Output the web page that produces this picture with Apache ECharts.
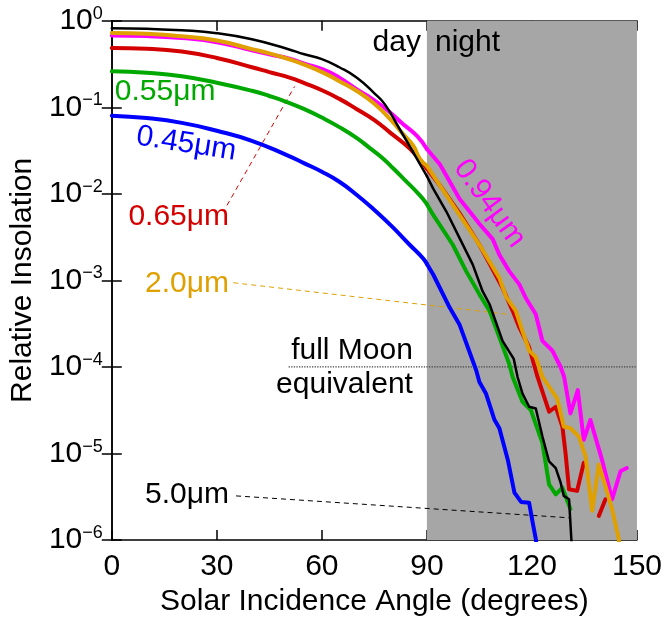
<!DOCTYPE html>
<html><head><meta charset="utf-8">
<script src="https://cdn.jsdelivr.net/npm/echarts@6/dist/echarts.min.js"></script>
<style>html,body{margin:0;padding:0;background:#fff}#c{width:665px;height:622px}</style>
</head><body><div id="c"></div>
<script>
// ---- data ----
const xTicks = [0, 30, 60, 90, 120, 150];
const nightRange = [90, 150];
const moonLine = [[50.5, 1e-4], [150, 1e-4]];

const black = [[0,0.82],[10,0.805],[20,0.775],[30,0.717],[40,0.61],[50,0.475],[55,0.41],[60,0.36],[65,0.29],[70,0.219],[75,0.145],[78,0.108],[82,0.058],[86,0.0305],[90,0.016],[91.8,0.0115],[95.6,6.2e-3],[99.3,3.1e-3],[103.1,1.52e-3],[105.9,7.5e-4],[107.9,5.3e-4],[111.6,2.0e-4],[114.8,1.24e-4],[115.9,7.66e-5],[117.3,4.93e-5],[119.2,3.47e-5],[121.1,3.32e-5],[123,1.57e-5],[124.9,8.1e-6],[126.8,6.8e-6],[128.2,4.6e-6],[129.1,3.24e-6],[130.6,2.96e-6],[131.7,5e-7]];
const magenta = [[0,0.675],[10,0.665],[20,0.63],[30,0.565],[40,0.455],[45,0.41],[51,0.361],[55,0.32],[60.5,0.272],[65,0.22],[70,0.161],[75,0.12],[79.5,0.087],[83,0.065],[87.1,0.047],[90,0.033],[93.7,0.022],[99.3,8.8e-3],[105,4.5e-3],[108.8,3.0e-3],[110.7,1.98e-3],[113.5,1.28e-3],[116.4,9e-4],[118.2,6.3e-4],[121.1,4.07e-4],[123,2.0e-4],[125.8,1.55e-4],[128.2,1.0e-4],[129.2,7.66e-5],[131,2.91e-5],[133.1,5.4e-5],[134.8,1.44e-5],[136.7,2.44e-5],[140,8.5e-6],[142.9,2.96e-6],[145.3,6.25e-6],[147.1,6.8e-6]];
const red = [[0,0.485],[10,0.475],[20,0.44],[30,0.371],[40,0.29],[45,0.255],[51,0.219],[55,0.19],[60.5,0.154],[65,0.125],[70,0.095],[75,0.071],[79.5,0.051],[85.2,0.033],[90,0.0195],[93.7,0.0126],[99.3,6e-3],[105,2.58e-3],[111.6,8.2e-4],[114.5,4.45e-4],[116.4,2.86e-4],[119.2,1.69e-4],[121.6,7.66e-5],[124.9,3.04e-5],[126.8,3.47e-5],[128.7,2.05e-5],[129.6,1.01e-5],[130.6,3.86e-6],[132.9,3.7e-6],[134.8,7.8e-6],null,[139.1,1.9e-6],[141,2.96e-6]];
const orange = [[0,0.72],[10,0.705],[20,0.66],[30,0.59],[40,0.47],[45,0.42],[51,0.355],[55,0.31],[60.5,0.25],[65,0.2],[70,0.154],[75,0.11],[79.5,0.073],[83,0.05],[86.1,0.036],[88,0.0253],[90,0.021],[93.7,0.0125],[99.3,5.7e-3],[105,2.58e-3],[110.7,1.07e-3],[112.6,6.5e-4],[115.4,4.45e-4],[117.3,2.6e-4],[119.2,1.55e-4],[121.1,1.3e-4],[123,7.66e-5],[127.2,4.32e-5],[129.1,2.05e-5],[131,1.96e-5],[133.4,1.57e-5],[135.3,9.3e-6],[137.2,2.18e-6],[139.1,7.46e-6],[141,4.2e-6],[142.9,2.28e-6],[144.8,1.03e-6],[145.4,6e-7]];
const green = [[0,0.26],[10,0.25],[20,0.228],[30,0.192],[40,0.155],[45,0.135],[50,0.115],[55,0.095],[60,0.076],[65,0.059],[70,0.044],[74,0.033],[77.6,0.0253],[80.5,0.0195],[83.3,0.015],[88,9.6e-3],[90,7.6e-3],[91.8,5.7e-3],[97.4,2.58e-3],[101.2,1.28e-3],[105,6.9e-4],[107.9,4.45e-4],[110.7,2.2e-4],[113.5,1.09e-4],[114.5,7.66e-5],[117.3,3.96e-5],[119.7,3.18e-5],[123,1.32e-5],[124.9,4.4e-6],[126.8,3.38e-6],[128.7,4.03e-6],[131,2.28e-6]];
const blue = [[0,0.08],[10,0.075],[20,0.066],[30,0.0535],[40,0.041],[50,0.028],[55,0.0225],[60,0.018],[65,0.0138],[70,0.0097],[75,6.5e-3],[80,4.2e-3],[85,2.6e-3],[88.9,1.8e-3],[90,1.55e-3],[91.8,1.17e-3],[96.5,4.85e-4],[99.3,3.1e-4],[104.1,9.1e-5],[105,6.7e-5],[106.9,4.9e-5],[109.3,2.45e-5],[110.7,1.96e-5],[113.1,8.5e-6],[115,3.53e-6],[116.9,2.76e-6],[119.2,2.7e-6],[120.2,1.6e-6],[121.1,1.03e-6],[121.6,7e-7]];

const leader065 = [[32.9, 7.35e-3], [52.2, 0.174]];
const leader20 = [[34.7, 9.4e-4], [113.5, 4.04e-4]];
const leader50 = [[35.5, 3.24e-6], [130.6, 1.81e-6]];

// ---- style ----
const FONT = 'Liberation Sans';
const FS = 30;
const C = {black:'#000000', magenta:'#ff00ff', red:'#d40000', orange:'#dfa000', green:'#00a800', blue:'#0000ff', gray:'#a6a6a6'};
const SPLIT = 90;

const chart = echarts.init(document.getElementById('c'));

function line(data, color, width, z, dash, smooth) {
  return {type:'line', data, symbol:'none', showSymbol:false, z, animation:false, clip:true,
    connectNulls:false, silent:true, smooth: smooth || false,
    lineStyle:{color, width, type: dash || 'solid', join:'round', cap: dash ? 'butt' : 'round'}};
}
function curve(data, color, width, z) {
  const day = data.filter(p => p && p[0] <= SPLIT);
  const night = data.filter(p => !p || p[0] >= SPLIT);
  return [line(day, color, width, z, null, 0.5), line(night, color, width, z)];
}

function expLabel(v) {
  const e = Math.round(Math.log10(v));
  return '{b|10}{s|' + (e === 0 ? '0' : '\u2212' + (-e)) + '}';
}

const yBase = {type:'log', logBase:10, min:1e-6, max:1, splitNumber:6, splitLine:{show:false},
  axisLine:{show:true, lineStyle:{color:'#000', width:1.5}},
  axisTick:{show:true, inside:true, length:10, lineStyle:{color:'#000', width:1.5}}, minorTick:{show:false}};
const xBase = {type:'value', min:0, max:150, interval:30, splitLine:{show:false},
  axisLine:{show:true, onZero:false, lineStyle:{color:'#000', width:1.5}},
  axisTick:{show:true, inside:true, length:10, lineStyle:{color:'#000', width:1.5}}};

chart.setOption({
  animation:false,
  grid:{left:110, right:27, top:20.7, bottom:77.5, containLabel:false},
  xAxis:[
    Object.assign({}, xBase, {position:'bottom',
      axisLabel:{show:true, margin:12, fontSize:FS, fontFamily:FONT, color:'#000', customValues:xTicks},
      name:'Solar Incidence Angle (degrees)', nameLocation:'middle', nameGap:46,
      nameTextStyle:{fontSize:FS, fontFamily:FONT, color:'#000'}}),
    Object.assign({}, xBase, {position:'top', axisLabel:{show:false}})
  ],
  yAxis:[
    Object.assign({}, yBase, {position:'left',
      axisLabel:{show:true, margin:9, formatter:expLabel, color:'#000',
        rich:{b:{fontSize:FS, fontFamily:FONT, color:'#000', lineHeight:32},
              s:{fontSize:18, fontFamily:FONT, color:'#000', lineHeight:18, verticalAlign:'top'}}},
      name:'Relative Insolation', nameLocation:'middle', nameGap:71, nameRotate:90,
      nameTextStyle:{fontSize:FS, fontFamily:FONT, color:'#000'}}),
    Object.assign({}, yBase, {position:'right', axisLabel:{show:false}})
  ],
  series:[].concat(
    [Object.assign(line([[90,1e-3]], 'rgba(0,0,0,0)', 0, 1), {
      markArea:{silent:true, itemStyle:{color:C.gray}, data:[[{xAxis:nightRange[0]},{xAxis:nightRange[1]}]]}}),
     line(moonLine, '#444', 1.3, 2, 'dotted'),
     line(leader065, C.red, 1, 2, [5,4]),
     line(leader20, C.orange, 1, 2, [5,4]),
     line(leader50, '#000', 1, 2, [5,4])],
    curve(magenta, C.magenta, 4, 3),
    curve(red, C.red, 4, 4),
    curve(orange, C.orange, 4, 5),
    curve(green, C.green, 4, 6),
    curve(blue, C.blue, 4, 7),
    curve(black, C.black, 2.5, 8)
  )
});

// ---- text annotations anchored in data coordinates ----
const notes = [
  {t:'0.55\u03bcm', c:C.green, at:[0.85,0.152], a:'left', r:0},
  {t:'0.45\u03bcm', c:C.blue, at:[21.3,0.0377], a:'center', r:-9},
  {t:'0.65\u03bcm', c:C.red, at:[33.5,5.5e-3], a:'right', r:0},
  {t:'2.0\u03bcm', c:C.orange, at:[33.5,9.2e-4], a:'right', r:0},
  {t:'5.0\u03bcm', c:'#000', at:[33.5,3.3e-6], a:'right', r:0},
  {t:'0.94\u03bcm', c:C.magenta, at:[107.9,7.7e-3], a:'center', r:-54},
  {t:'day', c:'#000', at:[88.3,0.55], a:'right', r:0},
  {t:'night', c:'#000', at:[92.3,0.55], a:'left', r:0},
  {t:'full Moon', c:'#000', at:[86,1.52e-4], a:'right', r:0},
  {t:'equivalent', c:'#000', at:[86,6.2e-5], a:'right', r:0}
];
const g = notes.map(n => {
  const p = chart.convertToPixel({xAxisIndex:0, yAxisIndex:0}, n.at);
  return {type:'text', x:p[0], y:p[1], rotation:n.r*Math.PI/180, z:20, silent:true,
    style:{text:n.t, fill:n.c, fontSize:FS, fontFamily:FONT, align:n.a, verticalAlign:'middle'}};
});
chart.setOption({graphic:g});
</script>
</body></html>
